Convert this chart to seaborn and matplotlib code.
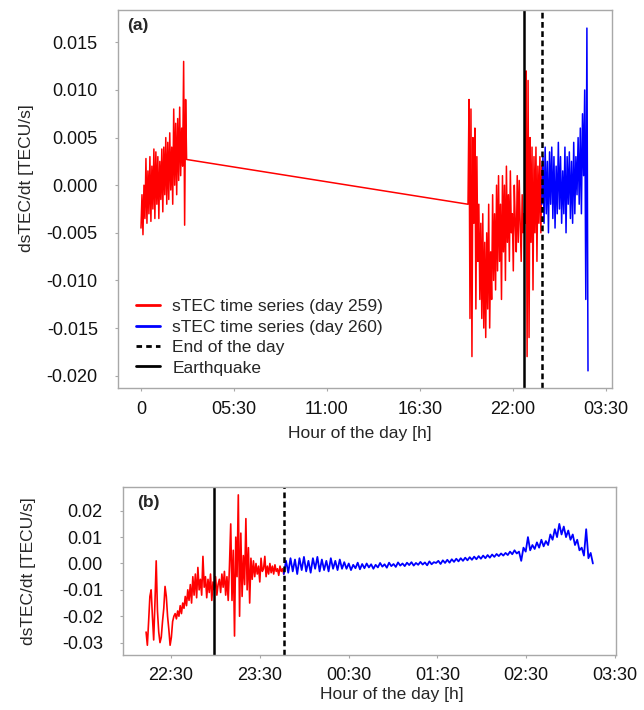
import numpy as np
import pandas as pd
import matplotlib
matplotlib.use("Agg")
import matplotlib.pyplot as plt
from matplotlib.lines import Line2D
import seaborn as sns

# ---------------- data (values in 1e-3 TECU/s) ----------------
# Panel (a): full day view
a_red1_span = (0.0, 2.7)
a_red1 = [-4.5, -1.0, -5.2, 0.0, -3.5, 2.8, -4.0, 1.5, -3.0, 3.0, -3.8, 2.0, -2.5, 3.8,
          -3.5, 3.5, -2.0, 3.0, -3.5, 2.5, -1.5, 3.8, -2.8, 4.0, -1.0, 5.0, -2.0, 4.5,
          -1.5, 5.5, -0.5, 4.0, -2.0, 8.0, 0.0, 6.5, -1.0, 7.0, 0.5, 8.2, 1.0, 6.0, 2.0,
          13.0, -4.2, 9.0, 2.7]
a_red2_span = (19.35, 23.72)
a_red2 = [-2.0, 9.0, -14.0, 8.0, -18.0, 5.0, -4.0, 6.0, -13.0, 3.0, -8.0,
          -2.0, -12.0, -4.0, -14.0, -3.0, -15.0, -6.0, -16.0, -5.0, -13.0, -2.0, -15.0,
          -7.0, -12.0, -1.0, -10.0,
          -3.0, -11.0, 0.0, -9.0, 1.0, -8.0, -2.0, -12.0, 1.0, -7.0, 0.0, -10.0, 2.0,
          -6.0, -1.0, -8.0, 1.5, -5.0, -3.0, -9.0, 0.0, -4.0, -7.0, 1.0, -6.0, 0.5, -4.0,
          -8.0, -1.0, -5.0, -3.0,
          -4.0, 12.0, -18.0, 11.0, -16.0, 5.0, -6.0, 4.0, -11.0, 3.0, -5.0, 4.0, -8.0,
          2.0, -4.0, 3.0, -5.0, 2.0]
a_blue_span = (23.72, 26.45)
a_blue = [-2.0, 3.0, -4.0, 4.0, -3.0, 2.5, -5.0, 3.5, -2.0, 4.0, -3.5, 3.0, -4.5, 2.0,
          -3.0, 4.5, -2.5, 3.0, -4.0, 1.5, -3.0, 4.0, -5.0, 3.0, -2.0, 3.5, -3.5, 2.5,
          -4.0, 4.5, -3.0, 3.0, -1.0, 5.0, -2.0, 6.0, -3.0, 7.5, 1.0, 10.0, -12.0, 16.5,
          -19.5]
a_quake = 22.69
a_day_end = 23.72
a_xticks = [0, 5.5, 11, 16.5, 22, 27.5]
a_xticklabels = ["0", "05:30", "11:00", "16:30", "22:00", "03:30"]
a_yticks = [-0.020, -0.015, -0.010, -0.005, 0.000, 0.005, 0.010, 0.015]

# Panel (b): zoom around the earthquake
b_red_span = (22.22, 23.77)
b_red = [-26, -31, -22, -12.5, -10, -20, -29, -15, 1, -18, -26,
         -30, -28, -22, -17, -8.7, -12.5, -20, -25, -31, -28, -22, -20,
         -19, -21, -18, -20, -16, -19, -15, -17, -12.5, -16, -10, -14,
         -8, -15, -5, -12, -4, -13, -1.5, -10, -6, -12, 2.7, -9, -5,
         -13, -6, -11, -4, -14, -7, -10, -5, -12, -8,
         -6, -11, -4, -9, -3, -12, -5, -14, -1,
         15, -14, 5, -27.5, 10, -5, 26, -20, 11.5, -12.5, 3, -8, 17, -10, 6, -15, 2,
         -6, 1, -5, 0, -4, -1, -7, 2, -3, -2, 2.7, -5,
         -1, -4, 0, -3.5, -1, -4, -0.5, -3, -2, -4.5, -1, -3, -2, -4]
b_blue_span = (23.77, 27.25)
b_blue = [-4, 1, -3.5, 2, -3, 1.5, -4, 2, -2.5, 2.5, -3, 1, -3.5, 2, -2, 2.5, -3, 1.5,
          -2.5, 1, -3, 2, -2, 1, -2.5, 1.5, -2, 0.5, -2,
          0, -2.5, -0.5, -1.8, 0.3, -2.2, -0.2, -1.8, 0, -1.5, -0.3, -2, -0.5, -1.5, 0.2,
          -1.2, -0.3, -1.6, 0.3, -1, -0.2, -1.3, 0.4, -0.8, 0, -1, 0.3, -0.6, 0.5, -0.8,
          0.2, -0.5, 0.6, -0.4, 0.4, -0.7, 0.8, -0.3, 0.5, 0.2,
          1, -0.2, 1.2, 0.2, 1.4, 0.3, 1.6, 0.6, 1.8, 0.8, 2, 1, 2.2, 1.2, 2.4, 1.4, 2.6,
          1.6, 2.8, 1.8, 3, 2, 3.2, 2.2, 3.4, 2.5, 3.6, 2.8, 3.8, 3, 4, 3.2,
          4.5, 3.5, 5, 3.8, 4.5, 1, 6, 4.5, 10, 5, 7, 5.5, 8, 6, 9, 6.5, 8.5, 7, 11, 9,
          13, 10,
          15, 11, 14, 10, 12.5, 9, 11, 7, 9, 5, 6, 3, 13, 2, 4, 0]
b_quake = 22.98
b_day_end = 23.77
b_xticks = [22.5, 23.5, 24.5, 25.5, 26.5, 27.5]
b_xticklabels = ["22:30", "23:30", "00:30", "01:30", "02:30", "03:30"]
b_yticks = [-0.03, -0.02, -0.01, 0.00, 0.01, 0.02]

legend_labels = ["sTEC time series (day 259)", "sTEC time series (day 260)",
                 "End of the day", "Earthquake"]


def segment(span, vals):
    t = np.linspace(span[0], span[1], len(vals))
    return pd.DataFrame({"hour": t, "dstec": np.asarray(vals, float) * 1e-3})


# ---------------- style ----------------
sns.set_theme(style="white")
plt.rcParams["font.family"] = ["Liberation Sans", "DejaVu Sans"]
FS = 12.5
TFS = 13
RED = "#ff0000"
BLUE = "#0000ff"
SPINE = "#a8a8a8"

fig = plt.figure(figsize=(6.44, 7.10), dpi=100)
W, H = 644, 710


def add_axes(l, t, r, b):
    return fig.add_axes([l / W, 1 - b / H, (r - l) / W, (b - t) / H])


def style_axes(ax):
    for s in ax.spines.values():
        s.set_color(SPINE)
        s.set_linewidth(1.0)
    ax.tick_params(axis="both", which="both", direction="out", length=2.5,
                   width=0.8, color=SPINE, labelsize=TFS, labelcolor="#111111",
                   bottom=True, left=True)


dash = (0, (2.3, 1.4))

# ---------------- panel (a) ----------------
axa = add_axes(118, 10, 612, 388)
red_a = pd.concat([segment(a_red1_span, a_red1), segment(a_red2_span, a_red2)])
blue_a = segment(a_blue_span, a_blue)
sns.lineplot(data=red_a, x="hour", y="dstec", ax=axa, color=RED, linewidth=1.1,
             estimator=None, sort=False, legend=False)
sns.lineplot(data=blue_a, x="hour", y="dstec", ax=axa, color=BLUE, linewidth=1.1,
             estimator=None, sort=False, legend=False)
axa.axvline(a_quake, color="black", linewidth=1.8)
axa.axvline(a_day_end, color="black", linewidth=1.8, linestyle=dash)
axa.set_xlim(-1.36, 27.87)
axa.set_ylim(-0.0213, 0.0184)
axa.set_xticks(a_xticks)
axa.set_xticklabels(a_xticklabels)
axa.set_yticks(a_yticks)
axa.set_yticklabels([f"{v:.3f}" for v in a_yticks])
style_axes(axa)
axa.tick_params(axis="y", pad=12)
axa.tick_params(axis="x", pad=7)
axa.set_xlabel("Hour of the day [h]", fontsize=FS)
axa.set_ylabel("dsTEC/dt [TECU/s]", fontsize=FS)
axa.xaxis.set_label_coords(0.49, -0.1)
axa.yaxis.set_label_coords(-0.17, 0.556)
axa.text(0.018, 0.978, "(a)", transform=axa.transAxes, fontsize=12.5,
         fontweight="bold", va="top", ha="left")

handles = [Line2D([], [], color=RED, linewidth=2),
           Line2D([], [], color=BLUE, linewidth=2),
           Line2D([], [], color="black", linewidth=2, linestyle=(0, (2.0, 1.5))),
           Line2D([], [], color="black", linewidth=2)]
axa.legend(handles, legend_labels, loc="lower left", bbox_to_anchor=(0.036, 0.033),
           frameon=False, fontsize=FS, handlelength=1.4, handletextpad=0.7,
           labelspacing=0.3, borderpad=0, borderaxespad=0)

# ---------------- panel (b) ----------------
axb = add_axes(123, 487, 616, 655)
red_b = segment(b_red_span, b_red)
blue_b = segment(b_blue_span, b_blue)
sns.lineplot(data=red_b, x="hour", y="dstec", ax=axb, color=RED, linewidth=1.2,
             estimator=None, sort=False, legend=False)
sns.lineplot(data=blue_b, x="hour", y="dstec", ax=axb, color=BLUE, linewidth=1.3,
             estimator=None, sort=False, legend=False)
axb.axvline(b_quake, color="black", linewidth=1.8)
axb.axvline(b_day_end, color="black", linewidth=1.8, linestyle=dash)
axb.set_xlim(21.96, 27.51)
axb.set_ylim(-0.0347, 0.029)
axb.set_xticks(b_xticks)
axb.set_xticklabels(b_xticklabels)
axb.set_yticks(b_yticks)
axb.set_yticklabels([f"{v:.2f}" for v in b_yticks])
style_axes(axb)
axb.tick_params(axis="y", pad=12)
axb.tick_params(axis="x", pad=6)
axb.set_xlabel("Hour of the day [h]", fontsize=FS)
axb.set_ylabel("dsTEC/dt [TECU/s]", fontsize=FS)
axb.xaxis.set_label_coords(0.546, -0.19)
axb.yaxis.set_label_coords(-0.176, 0.5)
axb.text(0.028, 0.95, "(b)", transform=axb.transAxes, fontsize=12.5,
         fontweight="bold", va="top", ha="left")

fig.savefig("out.png", dpi=100)
